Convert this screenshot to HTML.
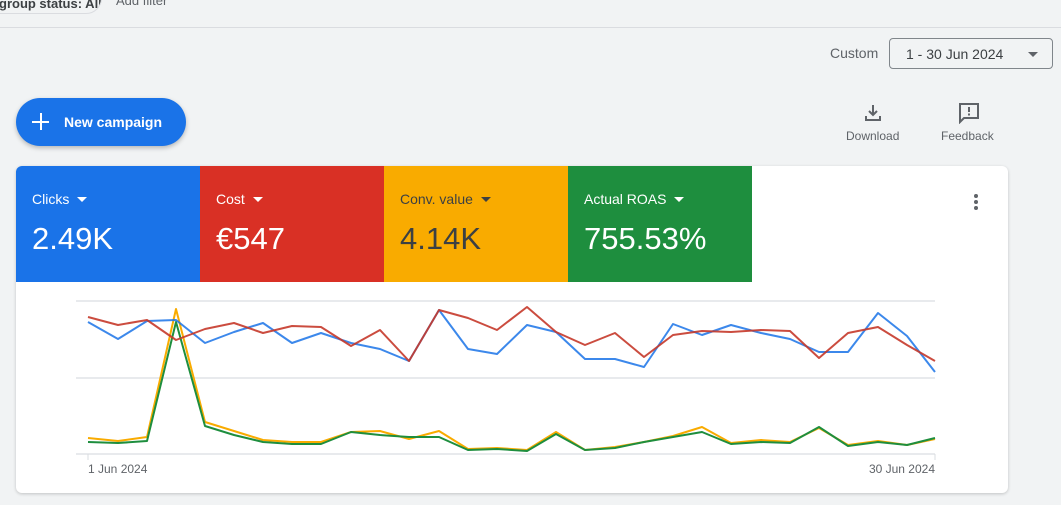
<!DOCTYPE html>
<html><head><meta charset="utf-8"><style>
*{margin:0;padding:0;box-sizing:border-box}
body{width:1061px;height:505px;background:#f1f3f4;font-family:"Liberation Sans",Arial,sans-serif;position:relative;overflow:hidden;color:#3c4043}
.abs{position:absolute}
.chip{left:-20px;top:-18px;width:122px;height:32px;border:1px solid #dadce0;border-radius:16px;font-size:13px;font-weight:bold;padding:13px 0 0 18px;color:#3c4043;white-space:nowrap;overflow:hidden}
.tile{position:absolute;top:166px;width:184px;height:116px;color:#fff}
.tile .l{position:absolute;left:16px;top:25px;font-size:14px}
.tile .v{position:absolute;left:16px;top:55px;font-size:31px}
.tri{display:inline-block;width:0;height:0;border-left:5px solid transparent;border-right:5px solid transparent;border-top:5px solid currentColor;margin-left:8px;vertical-align:2px}
</style></head><body>
<div class="abs chip">group status: All</div>
<div class="abs" style="left:116px;top:-7px;font-size:13px;color:#5f6368">Add filter</div>
<div class="abs" style="left:0;top:27px;width:1061px;height:1px;background:#dadce0"></div>
<div class="abs" style="left:830px;top:45px;font-size:14px;color:#5f6368">Custom</div>
<div class="abs" style="left:889px;top:38px;width:164px;height:31px;border:1px solid #80868b;border-radius:4px;font-size:14px;color:#3c4043;padding:7px 0 0 16px">1 - 30 Jun 2024<span class="abs" style="right:14px;top:13px;border-left:5px solid transparent;border-right:5px solid transparent;border-top:5px solid #5f6368"></span></div>
<div class="abs" style="left:16px;top:98px;width:170px;height:48px;border-radius:24px;background:#1a73e8;box-shadow:0 2px 5px rgba(0,0,0,.25);color:#fff;font-size:14px;font-weight:bold">
<span class="abs" style="left:16px;width:17px;height:2px;background:#fff;top:23px"></span>
<span class="abs" style="left:23.5px;top:15px;width:2px;height:17px;background:#fff"></span>
<span class="abs" style="left:48px;top:16px">New campaign</span></div>
<svg class="abs" style="left:863px;top:103px" width="20" height="20" viewBox="0 0 20 20"><path d="M10 2v10M6 8l4 4 4-4M3 13v4h14v-4" fill="none" stroke="#5f6368" stroke-width="2"/></svg>
<div class="abs" style="left:846px;top:129px;font-size:12px;color:#5f6368">Download</div>
<svg class="abs" style="left:958px;top:102px" width="22" height="22" viewBox="0 0 22 22"><path d="M2 2h18v14H6l-4 4z" fill="none" stroke="#5f6368" stroke-width="2"/><rect x="10" y="5" width="2" height="5" fill="#5f6368"/><rect x="10" y="11.5" width="2" height="2" fill="#5f6368"/></svg>
<div class="abs" style="left:941px;top:129px;font-size:12px;color:#5f6368">Feedback</div>
<div class="abs" style="left:16px;top:166px;width:992px;height:327px;background:#fff;border-radius:6px;box-shadow:0 1px 3px rgba(0,0,0,.2);overflow:hidden"></div>
<div class="tile" style="left:16px;background:#1a73e8;border-top-left-radius:6px"><div class="l">Clicks<span class="tri"></span></div><div class="v">2.49K</div></div>
<div class="tile" style="left:200px;background:#d93025"><div class="l">Cost<span class="tri"></span></div><div class="v">€547</div></div>
<div class="tile" style="left:384px;background:#f9ab00;color:#3c4043"><div class="l">Conv. value<span class="tri"></span></div><div class="v">4.14K</div></div>
<div class="tile" style="left:568px;background:#1e8e3e"><div class="l">Actual ROAS<span class="tri"></span></div><div class="v">755.53%</div></div>
<div class="abs" style="left:974px;top:194px;width:4px;height:4px;border-radius:2px;background:#5f6368;box-shadow:0 6px 0 #5f6368,0 12px 0 #5f6368"></div>
<svg class="abs" style="left:0;top:0" width="1061" height="505">
<g stroke="#e8eaed" stroke-width="2"><line x1="76" y1="301" x2="935" y2="301"/><line x1="76" y1="378" x2="935" y2="378"/><line x1="76" y1="454" x2="935" y2="454"/></g>
<line x1="88" y1="454" x2="88" y2="460" stroke="#dadce0"/>
<line x1="935" y1="454" x2="935" y2="460" stroke="#dadce0"/>
<g fill="none" stroke-width="2" stroke-linejoin="round">
<polyline stroke="#f9ab00" points="88,438 118,441 147,437 176,309 205,422 234,431 263,440 292,442 321,442 351,432 380,431 409,439 439,431 468,449 497,448 527,450 556,432 585,450 615,447 644,442 673,436 702,427 731,443 761,440 790,442 819,428 848,445 878,441 907,445 935,439"/>
<polyline stroke="#1e8e3e" points="88,442 118,443 147,441 176,322 205,426 234,435 263,442 292,444 321,444 351,432 380,435 409,437 439,437 468,450 497,449 527,451 556,434 585,450 615,448 644,442 673,437 702,432 731,444 761,442 790,443 819,427 848,446 878,442 907,445 935,438"/>
<polyline stroke="#1a73e8" opacity=".85" points="88,322 118,339 147,321 176,320 205,343 234,332 263,323 292,343 321,333 351,343 380,349 409,361 439,310 468,349 497,354 527,325 556,332 585,359 615,359 644,367 673,324 702,335 731,325 761,333 790,339 819,352 848,352 878,313 907,336 935,372"/>
<polyline stroke="#c5392a" opacity=".9" points="88,317 118,325 147,320 176,340 205,329 234,323 263,333 292,326 321,327 351,346 380,330 409,361 439,310 468,318 497,330 527,307 556,332 585,345 615,333 644,357 673,335 702,331 731,332 761,330 790,331 819,358 848,333 878,327 907,345 935,361"/>
</g>
<text x="88" y="473" font-size="12" fill="#5f6368" font-family="Liberation Sans,sans-serif">1 Jun 2024</text>
<text x="935" y="473" font-size="12" fill="#5f6368" text-anchor="end" font-family="Liberation Sans,sans-serif">30 Jun 2024</text>
</svg>
</body></html>
